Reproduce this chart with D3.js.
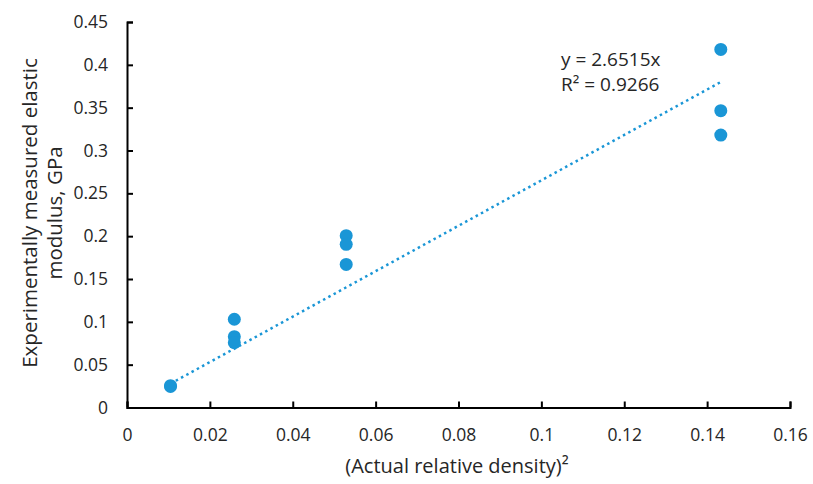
<!DOCTYPE html>
<html><head><meta charset="utf-8">
<script src="https://cdn.jsdelivr.net/npm/d3@7/dist/d3.min.js"></script>
<style>body{margin:0;background:#fff;} text{font-family:"Open Sans",sans-serif;fill:#262626;}</style>
</head><body><svg id="c" width="813" height="484"></svg>
<script>
const xValues = [0.0105, 0.0105, 0.0259, 0.0259, 0.0259, 0.0529, 0.0529, 0.0529, 0.1433, 0.1433, 0.1433];
const yValues = [0.0245, 0.0255, 0.103, 0.0827, 0.0757, 0.2006, 0.1905, 0.167, 0.418, 0.3465, 0.318];
const xTicks = [0, 0.02, 0.04, 0.06, 0.08, 0.1, 0.12, 0.14, 0.16];
const yTicks = [0, 0.05, 0.1, 0.15, 0.2, 0.25, 0.3, 0.35, 0.4, 0.45];
const slope = 2.6515;
const trendX = [0.0105, 0.1433];
const eqLines = ["y = 2.6515x", "R² = 0.9266"];

const svg = d3.select("#c");
const L = 127, R = 790, T = 22, B = 407.5;
const x = d3.scaleLinear().domain([0, 0.16]).range([L, R]);
const y = d3.scaleLinear().domain([0, 0.45]).range([B, T]);
const color = "#1a96d6";

const xa = svg.append("g").attr("transform", `translate(0,${B})`)
  .call(d3.axisBottom(x).tickValues(xTicks).tickSizeInner(-6).tickSizeOuter(-6).tickPadding(21).tickFormat(d => String(+d.toFixed(2))));
const ya = svg.append("g").attr("transform", `translate(${L},0)`)
  .call(d3.axisLeft(y).tickValues(yTicks).tickSizeInner(-6).tickSizeOuter(-6).tickPadding(19).tickFormat(d => String(+d.toFixed(2))));
[xa, ya].forEach(a => {
  a.selectAll("path,line").attr("stroke", "#000").attr("stroke-width", 2);
  a.selectAll("text").style("font-size", "17.5px").attr("fill", "#262626");
});

svg.append("line")
  .attr("x1", x(trendX[0])).attr("y1", y(slope * trendX[0]))
  .attr("x2", x(trendX[1])).attr("y2", y(slope * trendX[1]))
  .attr("stroke", color).attr("stroke-width", 2.5)
  .attr("stroke-dasharray", "2.5,3.5").attr("stroke-linecap", "butt");

svg.append("g").selectAll("circle").data(xValues.map((v, i) => [v, yValues[i]]))
  .join("circle").attr("cx", d => x(d[0])).attr("cy", d => y(d[1])).attr("r", 6.5).attr("fill", color);

svg.append("text").attr("x", 561).attr("y", 66).style("font-size", "19px").text(eqLines[0]);
svg.append("text").attr("x", 561).attr("y", 91).style("font-size", "19px").text(eqLines[1]);

svg.append("text").attr("x", 457).attr("y", 473).attr("text-anchor", "middle").style("font-size", "20px")
  .text("(Actual relative density)²");

const yt = svg.append("text").attr("transform", "translate(0,213) rotate(-90)").attr("text-anchor", "middle").style("font-size", "20.5px");
yt.append("tspan").attr("x", 0).attr("y", 37).text("Experimentally measured elastic");
yt.append("tspan").attr("x", 0).attr("y", 62).text("modulus, GPa");
</script></body></html>
